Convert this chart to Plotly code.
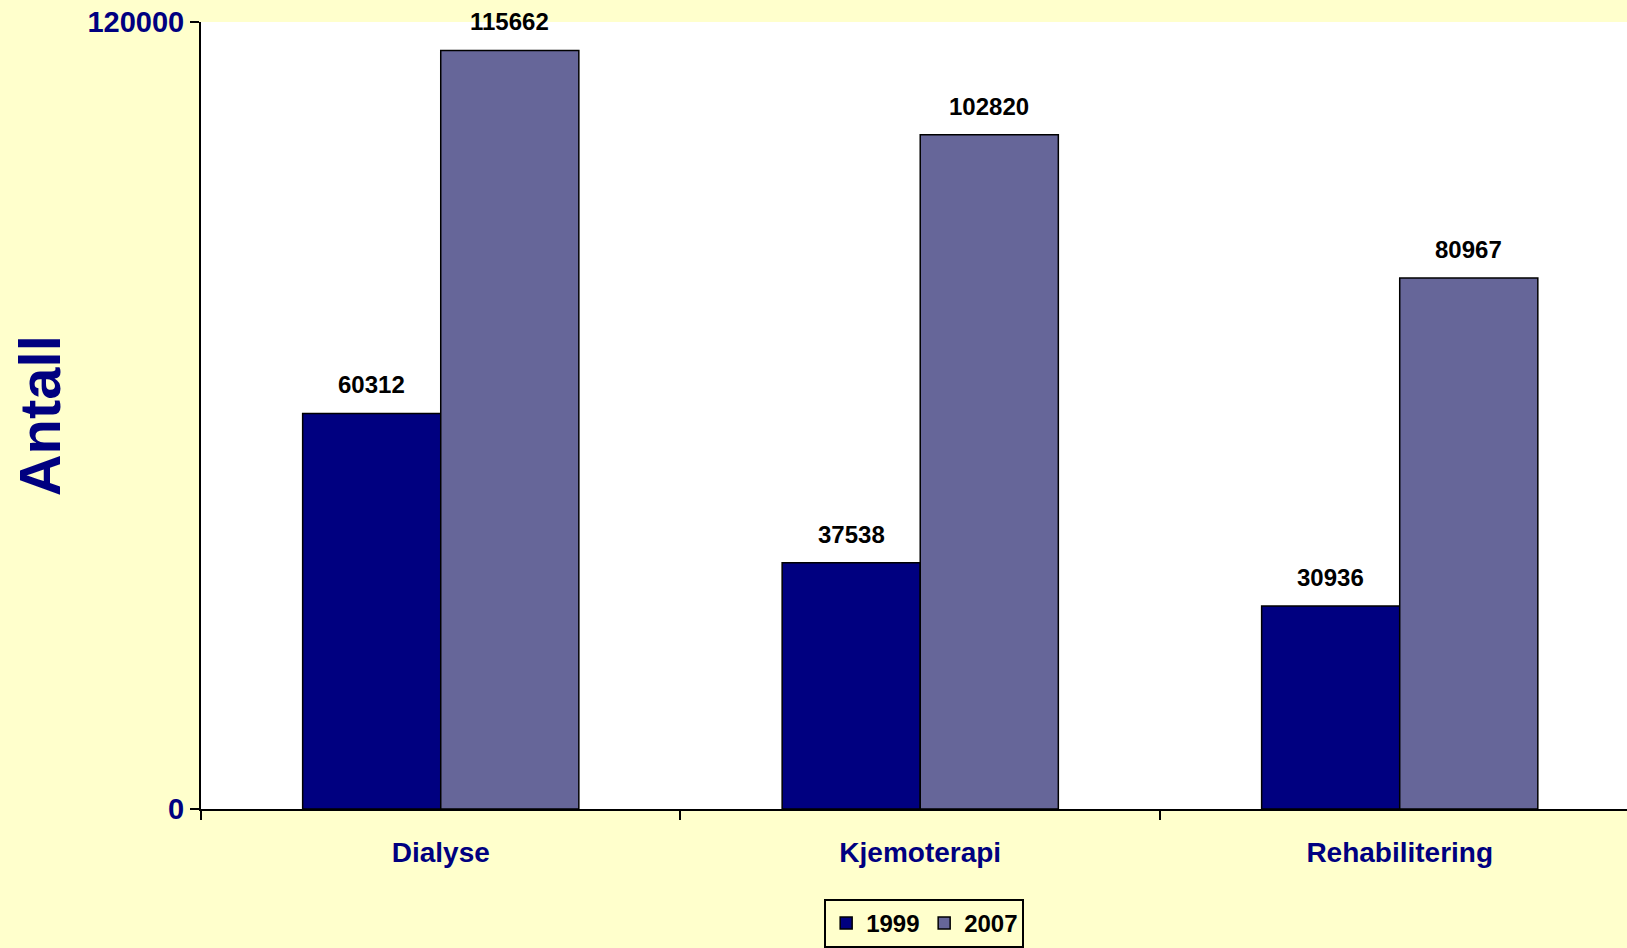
import plotly.graph_objects as go

# Behandlinger per kategori, 1999 mot 2007
categories = ["Dialyse", "Kjemoterapi", "Rehabilitering"]
values_1999 = [60312, 37538, 30936]
values_2007 = [115662, 102820, 80967]
series_names = ["1999", "2007"]
y_ticks = [0, 120000]

NAVY = "#000080"
LAVENDER = "#666699"
BG = "#FFFFCC"
FONT = "Liberation Sans, Arial, sans-serif"

bargap = 0.424
bar_w = (1 - bargap) / 2

fig = go.Figure()
for name, vals, col in [(series_names[0], values_1999, NAVY), (series_names[1], values_2007, LAVENDER)]:
    fig.add_trace(go.Bar(
        x=categories, y=vals, name=f"<b>{name}</b>",
        marker=dict(color=col, line=dict(color="black", width=1.5)),
    ))

# value labels above each bar
annotations = []
for i, cat in enumerate(categories):
    for off, vals in [(-bar_w / 2, values_1999), (bar_w / 2, values_2007)]:
        annotations.append(dict(
            x=i + off, y=vals[i], xref="x", yref="y",
            text=f"<b>{vals[i]}</b>", showarrow=False,
            yanchor="bottom", xanchor="center", yshift=13,
            font=dict(family=FONT, size=24, color="black"),
        ))

annotations.append(dict(
    x=-0.113, y=0.5, xref="paper", yref="paper",
    text="<b>Antall</b>", textangle=-90, showarrow=False,
    xanchor="center", yanchor="middle",
    font=dict(family=FONT, size=58, color=NAVY),
))

fig.update_layout(
    width=1627, height=948,
    margin=dict(l=201, r=0, t=22, b=139),
    paper_bgcolor=BG, plot_bgcolor="white",
    barmode="group", bargap=bargap, bargroupgap=0,
    annotations=annotations,
    showlegend=True,
    legend=dict(
        orientation="h", x=0.437, y=-0.115, xanchor="left", yanchor="top",
        bgcolor=BG, bordercolor="black", borderwidth=2,
        font=dict(family=FONT, size=24, color="black"),
        itemwidth=30, entrywidth=53, entrywidthmode="pixels", tracegroupgap=0,
    ),
    font=dict(family=FONT),
)

fig.update_traces(cliponaxis=False)

fig.update_xaxes(
    type="category", range=[-0.5, 2.474],
    showline=True, linecolor="black", linewidth=2,
    ticks="outside", tickson="boundaries", ticklen=9, tickwidth=2, tickcolor="black",
    showgrid=False, ticklabelstandoff=17,
    tickfont=dict(family=FONT, size=28, color=NAVY),
    tickprefix="<b>", ticksuffix="</b>",
)
fig.update_yaxes(
    range=[0, 120000], tickvals=y_ticks, ticktext=[f"<b>{v}</b>" for v in y_ticks],
    showline=True, linecolor="black", linewidth=2,
    ticks="outside", ticklen=9, tickwidth=2, tickcolor="black",
    showgrid=False, zeroline=False,
    tickfont=dict(family=FONT, size=29, color=NAVY),
)

fig.write_html("out.html")
